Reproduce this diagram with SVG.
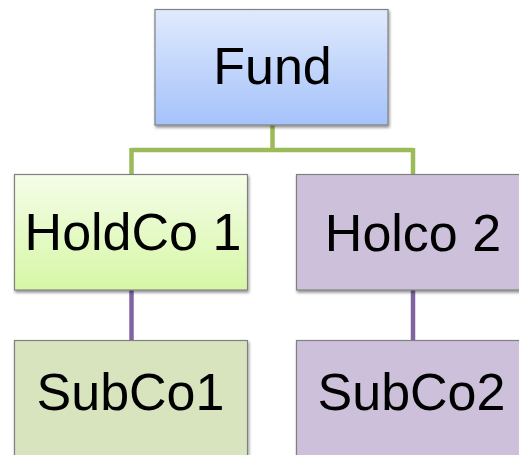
<svg xmlns="http://www.w3.org/2000/svg" width="519" height="455" viewBox="0 0 519 455">
<defs>
<linearGradient id="gBlue" x1="0" y1="0" x2="0" y2="1"><stop offset="0" stop-color="#e0eafd"/><stop offset="1" stop-color="#a5c2fa"/></linearGradient>
<linearGradient id="gGreen" x1="0" y1="0" x2="0" y2="1"><stop offset="0" stop-color="#f5fde9"/><stop offset="1" stop-color="#d6f7a5"/></linearGradient>
<filter id="sh" x="-10%" y="-10%" width="125%" height="125%"><feGaussianBlur in="SourceAlpha" stdDeviation="1.5"/><feOffset dx="1" dy="2"/><feComponentTransfer><feFuncA type="linear" slope="0.45"/></feComponentTransfer><feMerge><feMergeNode/><feMergeNode in="SourceGraphic"/></feMerge></filter>
</defs>
<style>
.box{stroke:#808080;stroke-width:1.2;filter:url(#sh)}
.lbl{font-family:"Liberation Sans",Arial,sans-serif;font-size:52px;fill:#000;text-anchor:middle}
.cg{stroke:#9bbb59;stroke-width:4.5;fill:none}
.cp{stroke:#8064a2;stroke-width:4.5;fill:none}
</style>
<rect width="519" height="455" fill="#fff"/>
<g id="connectors">
<path class="cg" d="M272.5 125 V150 M131.5 150 H413 M131.5 148 V174 M413 148 V174"/>
<path class="cp" d="M131.5 290 V340"/>
<path class="cp" d="M413 290 V340"/>
</g>
<g id="fund"><rect class="box" x="155" y="9.5" width="233" height="115.5" fill="url(#gBlue)"/><text class="lbl" x="272.5" y="84">Fund</text></g>
<g id="holdco1"><rect class="box" x="14.5" y="174.5" width="233" height="115.5" fill="url(#gGreen)"/><text class="lbl" x="133" y="250">HoldCo 1</text></g>
<g id="holco2"><rect class="box" x="296.5" y="174.5" width="233" height="115.5" fill="#ccc0da"/><text class="lbl" x="413" y="251">Holco 2</text></g>
<g id="subco1"><rect class="box" x="14.5" y="340.5" width="233" height="120" fill="#d7e4bd"/><text class="lbl" x="130.5" y="410">SubCo1</text></g>
<g id="subco2"><rect class="box" x="296.5" y="340.5" width="233" height="120" fill="#ccc0da"/><text class="lbl" x="411.5" y="410">SubCo2</text></g>
</svg>
